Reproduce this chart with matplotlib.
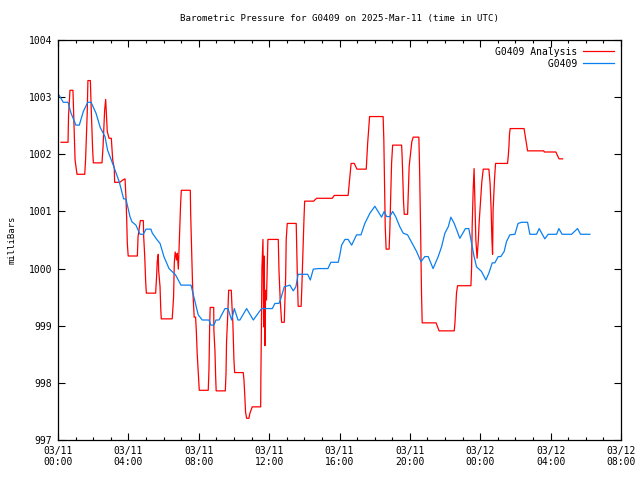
import matplotlib
matplotlib.use("Agg")
import matplotlib.pyplot as plt
import numpy as np

# hours since 2025-03-11 00:00 UTC, pressure in mbar
analysis_hours = [
    0.17, 0.57, 0.60, 0.68, 0.85, 0.97, 1.08, 1.52, 1.57, 1.66, 1.70, 1.84, 1.88, 1.97, 2.01,
    2.50, 2.56, 2.65, 2.71, 2.77, 2.80, 2.90, 3.03, 3.11, 3.20, 3.22, 3.52, 3.68, 3.81, 3.86,
    3.90, 3.94, 3.99, 4.51, 4.55, 4.68, 4.85, 4.87, 4.93, 4.98, 5.02, 5.55, 5.57, 5.61, 5.64,
    5.70, 5.72, 5.80, 5.84, 5.87, 6.49, 6.53, 6.57, 6.61, 6.66, 6.74, 6.78, 6.84, 6.88, 6.91,
    6.97, 7.01, 7.52, 7.54, 7.60, 7.65, 7.74, 7.82, 7.86, 7.91, 7.99, 8.03, 8.54, 8.58, 8.62,
    8.65, 8.85, 8.86, 8.92, 8.96, 8.99, 9.51, 9.55, 9.58, 9.64, 9.70, 9.85, 9.89, 9.94, 10.00,
    10.04, 10.53, 10.57, 10.61, 10.66, 10.72, 10.85, 10.91, 11.04, 11.52, 11.53, 11.57, 11.59,
    11.65, 11.69, 11.72, 11.76, 11.80, 11.85, 11.93, 12.52, 12.56, 12.63, 12.71, 12.86, 12.94,
    12.97, 13.03, 13.54, 13.60, 13.65, 13.82, 13.86, 13.92, 13.98, 14.02, 14.53, 14.70, 15.59,
    15.70, 16.49, 16.57, 16.66, 16.84, 16.99, 17.52, 17.60, 17.71, 18.48, 18.52, 18.56, 18.60,
    18.65, 18.82, 18.86, 18.92, 18.96, 19.02, 19.53, 19.56, 19.60, 19.64, 19.68, 19.87, 19.93,
    19.96, 20.04, 20.11, 20.19, 20.51, 20.55, 20.61, 20.66, 20.70, 21.49, 21.66, 22.52, 22.56,
    22.60, 22.65, 22.71, 23.47, 23.51, 23.54, 23.60, 23.65, 23.71, 23.75, 23.82, 23.89, 23.94,
    24.02, 24.09, 24.17, 24.49, 24.56, 24.62, 24.66, 24.70, 24.73, 24.81, 24.87, 25.55, 25.59,
    25.63, 25.66, 25.70, 26.49, 26.59, 26.69, 27.61, 27.64, 28.30, 28.37, 28.48, 28.68,
]
analysis_mb = [
    1002.21, 1002.21, 1002.68, 1003.12, 1003.12, 1001.90, 1001.65, 1001.65, 1001.92, 1002.72,
    1003.29, 1003.29, 1002.87, 1002.07, 1001.85, 1001.85, 1002.13, 1002.77, 1002.96, 1002.60,
    1002.40, 1002.28, 1002.28, 1001.90, 1001.75, 1001.51, 1001.51, 1001.55, 1001.57, 1001.26,
    1000.91, 1000.44, 1000.22, 1000.22, 1000.56, 1000.84, 1000.84, 1000.56, 1000.21, 999.79,
    999.57, 999.57, 999.67, 999.90, 1000.12, 1000.25, 999.97, 999.68, 999.30, 999.12,
    999.12, 999.30, 999.51, 1000.09, 1000.29, 1000.15, 1000.27, 999.99, 1000.35, 1000.67,
    1001.14, 1001.37, 1001.37, 1000.97, 1000.25, 999.69, 999.15, 999.15, 998.92, 998.52,
    998.08, 997.87, 997.87, 998.22, 998.98, 999.32, 999.32, 998.92, 998.57, 998.11,
    997.86, 997.86, 998.17, 998.72, 999.13, 999.62, 999.62, 999.33, 999.04, 998.40,
    998.18, 998.18, 998.05, 997.82, 997.49, 997.38, 997.38, 997.47, 997.58, 997.58,
    998.06, 999.22, 1000.00, 1000.51, 998.98, 1000.22, 998.65, 999.62, 999.45, 1000.51,
    1000.51, 999.97, 999.45, 999.06, 999.06, 999.86, 1000.50, 1000.79, 1000.79, 999.92,
    999.34, 999.34, 999.68, 1000.30, 1000.86, 1001.18, 1001.18, 1001.23, 1001.23, 1001.28,
    1001.28, 1001.55, 1001.84, 1001.84, 1001.74, 1001.74, 1002.19, 1002.66, 1002.66, 1002.25,
    1001.43, 1000.73, 1000.34, 1000.34, 1000.67, 1001.37, 1001.84, 1002.16, 1002.16, 1001.96,
    1001.55, 1001.17, 1000.95, 1000.95, 1001.52, 1001.79, 1002.02, 1002.22, 1002.30, 1002.30,
    1001.78, 1000.67, 999.59, 999.05, 999.05, 998.91, 998.91, 999.04, 999.27, 999.57,
    999.70, 999.70, 1000.03, 1000.73, 1001.40, 1001.75, 1000.97, 1000.50, 1000.18, 1000.50,
    1000.82, 1001.20, 1001.52, 1001.74, 1001.74, 1001.49, 1001.02, 1000.53, 1000.25, 1001.02,
    1001.56, 1001.84, 1001.84, 1001.96, 1002.13, 1002.34, 1002.45, 1002.45, 1002.25, 1002.06,
    1002.06, 1002.04, 1002.04, 1001.99, 1001.92, 1001.92,
]

obs_hours = [
    0.07, 0.30, 0.57, 0.74, 1.02, 1.21, 1.44, 1.69, 1.88, 2.16, 2.40, 2.67, 2.82, 3.14, 3.48,
    3.73, 3.86, 4.09, 4.20, 4.43, 4.66, 4.85, 5.00, 5.28, 5.36, 5.64, 5.80, 6.02, 6.31, 6.68,
    6.99, 7.56, 7.74, 7.97, 8.20, 8.58, 8.69, 8.86, 8.98, 9.15, 9.49, 9.66, 9.87, 10.02, 10.23,
    10.34, 10.72, 11.10, 11.57, 12.18, 12.33, 12.56, 12.67, 12.86, 13.18, 13.37, 13.52, 13.65,
    14.19, 14.34, 14.51, 14.79, 15.34, 15.51, 15.93, 16.02, 16.12, 16.31, 16.49, 16.69, 16.97,
    17.22, 17.44, 17.73, 18.01, 18.39, 18.54, 18.68, 18.86, 19.02, 19.19, 19.43, 19.62, 19.87,
    20.19, 20.38, 20.63, 20.85, 21.04, 21.32, 21.61, 21.80, 21.99, 22.18, 22.33, 22.52, 22.84,
    23.16, 23.35, 23.51, 23.65, 23.79, 24.07, 24.32, 24.49, 24.68, 24.83, 25.02, 25.17, 25.36,
    25.49, 25.68, 25.97, 26.15, 26.35, 26.69, 26.82, 27.20, 27.35, 27.67, 27.86, 28.34, 28.47,
    28.65, 29.19, 29.53, 29.70, 30.23,
]
obs_mb = [
    1003.03, 1002.91, 1002.91, 1002.72, 1002.51, 1002.51, 1002.75, 1002.91, 1002.91, 1002.72,
    1002.47, 1002.31, 1002.07, 1001.81, 1001.52, 1001.22, 1001.22, 1000.91, 1000.82, 1000.76,
    1000.60, 1000.60, 1000.69, 1000.69, 1000.62, 1000.50, 1000.44, 1000.21, 1000.00, 999.89,
    999.71, 999.71, 999.48, 999.19, 999.10, 999.10, 999.01, 999.01, 999.10, 999.10,
    999.30, 999.30, 999.10, 999.30, 999.10, 999.10, 999.30, 999.10, 999.30, 999.30,
    999.39, 999.39, 999.48, 999.68, 999.71, 999.61, 999.68, 999.90, 999.90, 999.80,
    999.99, 1000.00, 1000.00, 1000.11, 1000.11, 1000.24, 1000.41, 1000.51, 1000.51, 1000.41,
    1000.59, 1000.59, 1000.79, 1000.97, 1001.09, 1000.90, 1001.00, 1000.91, 1000.91, 1001.00,
    1000.91, 1000.73, 1000.62, 1000.59, 1000.41, 1000.30, 1000.12, 1000.21, 1000.21, 1000.00,
    1000.21, 1000.38, 1000.62, 1000.73, 1000.90, 1000.79, 1000.53, 1000.70, 1000.70, 1000.44,
    1000.21, 1000.03, 999.95, 999.80, 999.92, 1000.10, 1000.10, 1000.21, 1000.21, 1000.30,
    1000.47, 1000.59, 1000.60, 1000.79, 1000.81, 1000.81, 1000.60, 1000.60, 1000.70, 1000.52,
    1000.60, 1000.60, 1000.70, 1000.60, 1000.60, 1000.70, 1000.60, 1000.60,
]

tick_hours = [0, 4, 8, 12, 16, 20, 24, 28, 32]
tick_labels = ["03/11\n00:00", "03/11\n04:00", "03/11\n08:00", "03/11\n12:00", "03/11\n16:00",
               "03/11\n20:00", "03/12\n00:00", "03/12\n04:00", "03/12\n08:00"]

plt.rcParams["font.family"] = "DejaVu Sans Mono"
plt.rcParams["font.size"] = 7

fig = plt.figure(figsize=(6.4, 4.8), dpi=100)
ax = fig.add_axes([58 / 640, 40 / 480, 563 / 640, 400 / 480])

ax.plot(analysis_hours, analysis_mb, color="#ff0000", lw=0.9, label="G0409 Analysis")
ax.plot(obs_hours, obs_mb, color="#0a80f0", lw=0.9, label="         G0409")

ax.set_xlim(0, 32)
ax.set_ylim(997, 1004)
ax.set_xticks(tick_hours)
ax.set_xticklabels(tick_labels)
ax.set_xticks(np.arange(0, 33, 1), minor=True)
ax.set_yticks(np.arange(997, 1005, 1))
ax.tick_params(which="both", direction="in", top=True, right=True, pad=4)
ax.tick_params(which="major", length=5, width=0.8)
ax.tick_params(which="minor", length=2.5, width=0.8)
for s in ax.spines.values():
    s.set_linewidth(0.9)

ax.set_ylabel("milliBars", fontsize=6.4, labelpad=9)
ax.set_title("Barometric Pressure for G0409 on 2025-Mar-11 (time in UTC)", fontsize=6.6, pad=14)

leg = ax.legend(loc="upper right", frameon=False, markerfirst=False, handlelength=3.2,
                handletextpad=0.6, borderaxespad=0.3, labelspacing=0.2)

fig.savefig("out.png", dpi=100)
